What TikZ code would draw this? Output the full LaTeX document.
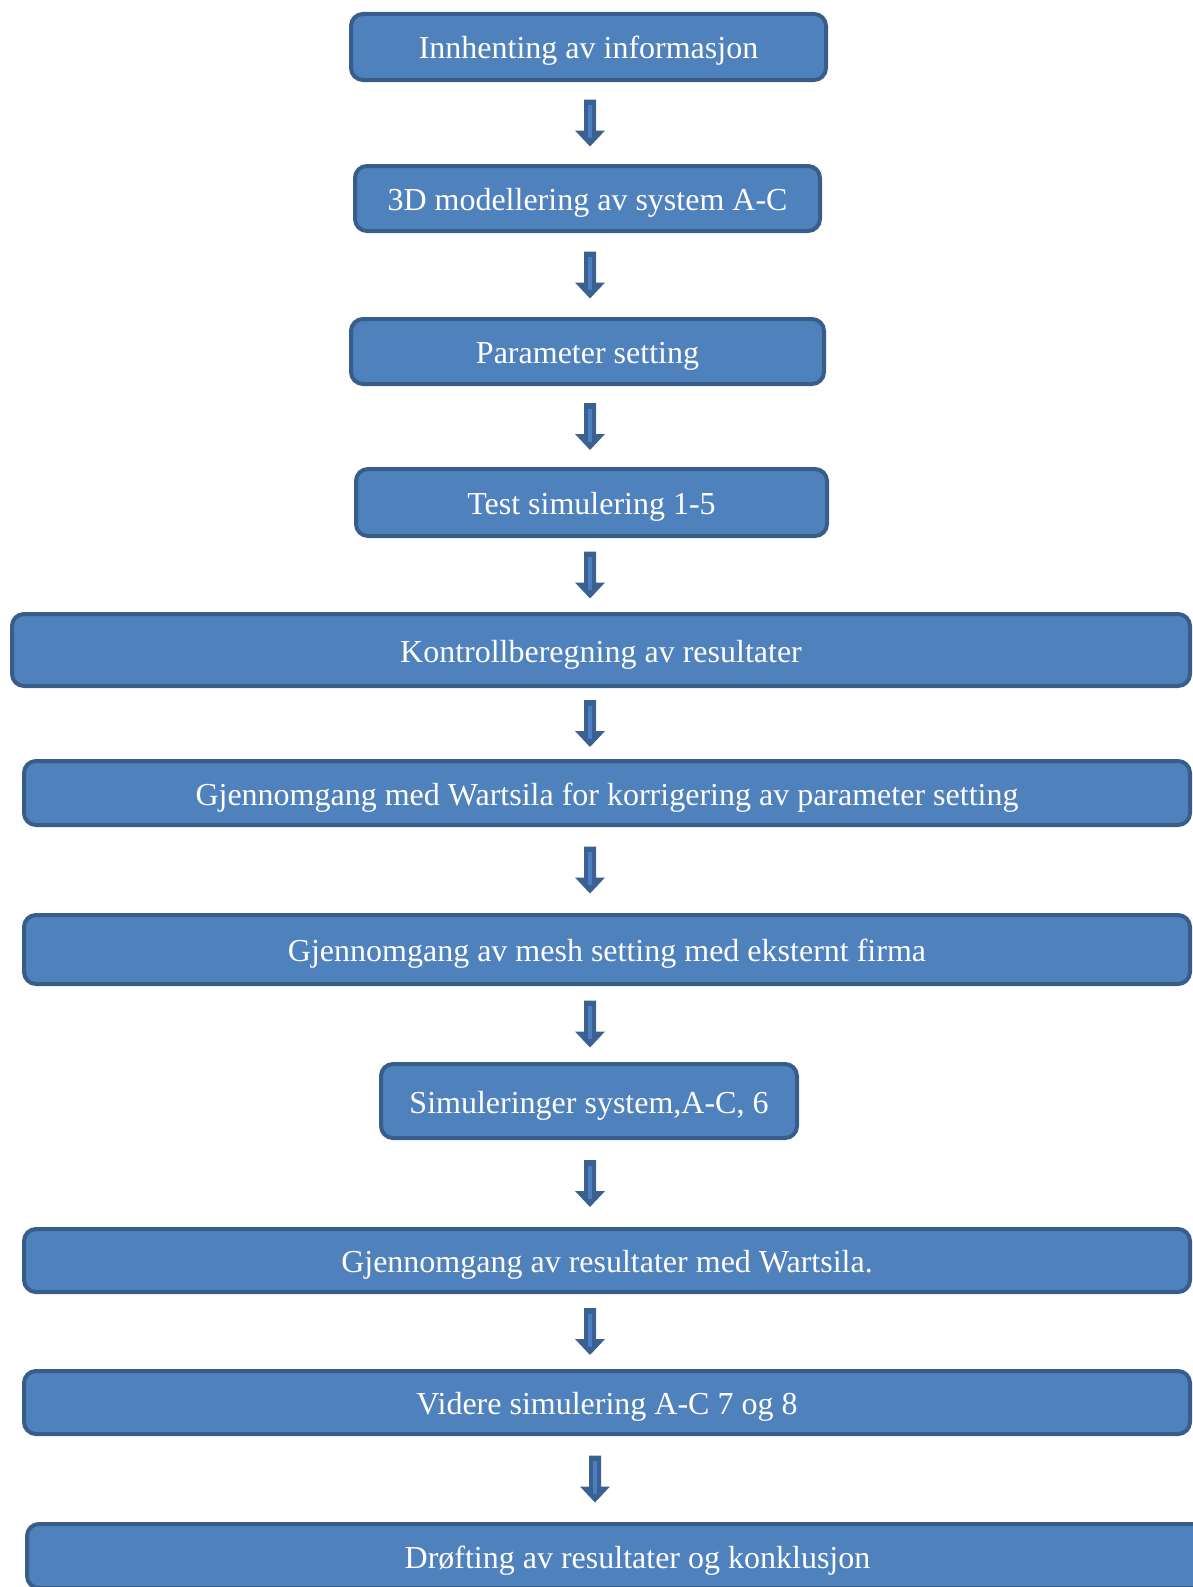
\documentclass[tikz,border=0pt]{standalone}
\usepackage{fontspec}
\setmainfont{Liberation Serif}
\usetikzlibrary{calc}

\definecolor{boxfill}{HTML}{4F81BD}
\definecolor{boxline}{HTML}{385D8A}
\definecolor{arrowfill}{HTML}{3B6192}
\definecolor{arrowstripe}{HTML}{4A7EC0}

\begin{document}
\begin{tikzpicture}[x=1pt, y=1pt,
	stepbox/.style={draw=boxline, fill=boxfill, line width=4pt, rounded corners=12pt,
		text=white, inner sep=0pt, text height=24pt, text depth=0pt,
		font=\fontsize{32}{38}\selectfont}]

	% page size taken from the original figure, one pt per pixel
	\useasboundingbox (0,0) rectangle (1192,-1587);

	% the steps, top to bottom
	\node[stepbox, minimum width=475pt, minimum height=66pt] (info) at (588.5,-47) {Innhenting av informasjon};
	\node[stepbox, minimum width=465pt, minimum height=65pt] (model) at (587.5,-198.5) {3D modellering av system A-C};
	\node[stepbox, minimum width=473pt, minimum height=65pt] (param) at (587.5,-351.5) {Parameter setting};
	\node[stepbox, minimum width=471pt, minimum height=67pt] (testsim) at (591.5,-502.5) {Test simulering 1-5};
	\node[stepbox, minimum width=1178pt, minimum height=72pt] (control) at (601,-650) {Kontrollberegning av resultater};
	\node[stepbox, minimum width=1166pt, minimum height=64pt] (wartsila) at (607,-793) {Gjennomgang med Wartsila for korrigering av parameter setting};
	\node[stepbox, minimum width=1166pt, minimum height=69pt] (mesh) at (607,-949.5) {Gjennomgang av mesh setting med eksternt firma};
	\node[stepbox, minimum width=416pt, minimum height=74pt] (sims) at (589,-1101) {Simuleringer system,A-C, 6};
	\node[stepbox, minimum width=1166pt, minimum height=63pt] (results) at (607,-1260.5) {Gjennomgang av resultater med Wartsila.};
	\node[stepbox, minimum width=1166pt, minimum height=63pt] (further) at (607,-1402.5) {Videre simulering A-C 7 og 8};
	\node[stepbox, minimum width=1221pt, minimum height=64pt] (discussion) at (637.5,-1556) {Drøfting av resultater og konklusjon};

	% block arrows in the gaps between the steps
	\foreach \from/\to/\ax in {info/model/590, model/param/590, param/testsim/590, testsim/control/590,
		control/wartsila/590, wartsila/mesh/590, mesh/sims/590, sims/results/590,
		results/further/590, further/discussion/595} {
		\coordinate (mid) at ($(\from.south)!0.5!(\to.north)$);
		\coordinate (m) at (mid -| \ax,0);
		\fill[arrowfill] ($(m)+(-6,23.5)$) -- ++(12,0) -- ++(0,-31) -- ++(9,0)
			-- ++(-15,-16) -- ++(-15,16) -- ++(9,0) -- cycle;
		\draw[arrowstripe, line width=3.5pt] ($(m)+(0,18)$) -- ($(m)+(0,-15)$);
	}

\end{tikzpicture}
\end{document}
